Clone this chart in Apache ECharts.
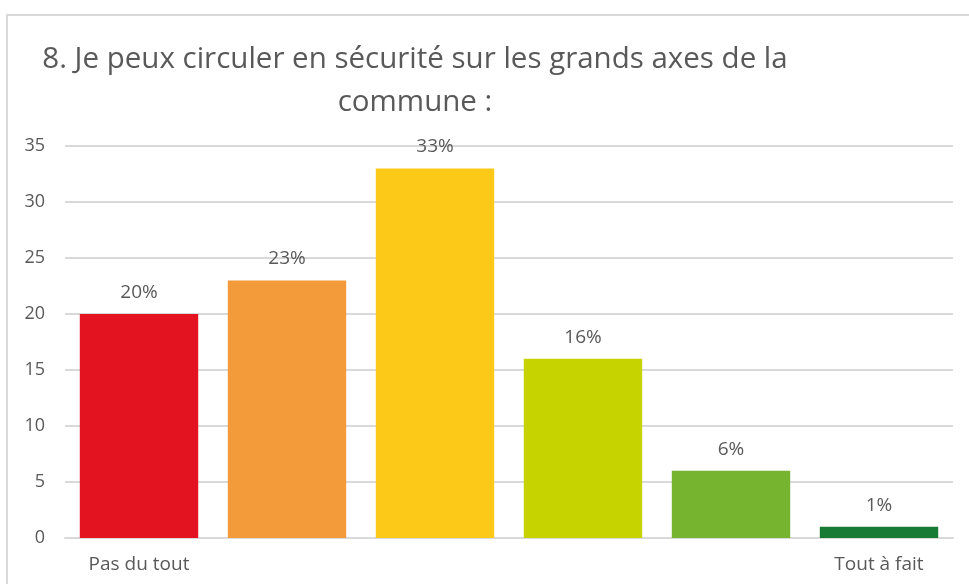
<!DOCTYPE html>
<html>
<head>
<meta charset="utf-8">
<script src="https://cdn.jsdelivr.net/npm/echarts@6/dist/echarts.min.js"></script>
<style>
  html, body { margin: 0; padding: 0; background: #fff; }
  #chart { width: 969px; height: 584px; }
</style>
</head>
<body>
<div id="chart"></div>
<script>
// données
const categories = ["Pas du tout", "", "", "", "", "Tout à fait"];
const values = [20, 23, 33, 16, 6, 1];
const barColors = ["#E3131F", "#F39A3B", "#FDC918", "#C6D301", "#76B42F", "#177A35"];

const chart = echarts.init(document.getElementById("chart"));
const fontFamily = "'Open Sans', Lato, sans-serif";

chart.setOption({
  animation: false,
  title: {
    text: "8. Je peux circuler en sécurité sur les grands axes de la\ncommune :",
    left: 410,
    top: 33,
    textAlign: "center",
    textStyle: {
      fontFamily: fontFamily,
      fontSize: 29.5,
      fontWeight: "normal",
      color: "#595959",
      lineHeight: 43
    }
  },
  graphic: [
    {
      type: "polyline",
      shape: { points: [[7, 584], [7, 15], [969, 15]] },
      style: { stroke: "#d9d9d9", lineWidth: 2, fill: null }
    }
  ],
  grid: { left: 65, right: 16, top: 146, bottom: 46 },
  xAxis: {
    type: "category",
    data: categories,
    axisLine: { lineStyle: { color: "#d9d9d9", width: 2 } },
    axisTick: { show: false },
    axisLabel: {
      interval: 0,
      color: "#595959",
      fontFamily: fontFamily,
      fontSize: 19,
      margin: 17
    }
  },
  yAxis: {
    type: "value",
    min: 0,
    max: 35,
    interval: 5,
    axisLine: { show: false },
    axisTick: { show: false },
    splitLine: { lineStyle: { color: "#d9d9d9", width: 2 } },
    axisLabel: {
      color: "#595959",
      fontFamily: fontFamily,
      fontSize: 18,
      margin: 20
    }
  },
  series: [
    {
      type: "bar",
      barCategoryGap: "20%",
      data: values.map((v, i) => ({ value: v, itemStyle: { color: barColors[i] } })),
      label: {
        show: true,
        position: "top",
        distance: 12,
        formatter: "{c}%",
        color: "#595959",
        fontFamily: fontFamily,
        fontSize: 19
      }
    }
  ]
});
</script>
</body>
</html>
